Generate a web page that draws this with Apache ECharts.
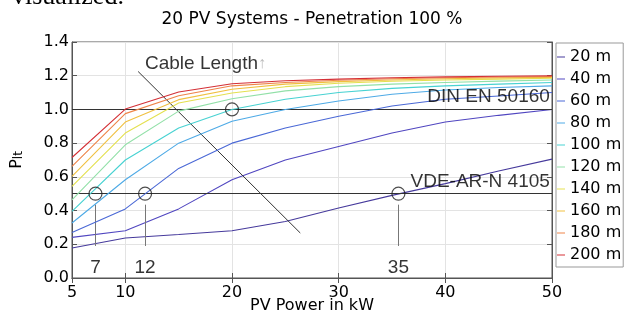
<!DOCTYPE html>
<html>
<head>
<meta charset="utf-8">
<script src="https://cdn.jsdelivr.net/npm/echarts@6/dist/echarts.min.js"></script>
<style>
  html, body { margin: 0; padding: 0; background: #fff; }
  #chart { width: 630px; height: 316px; }
</style>
</head>
<body>
<div id="chart"></div>
<script>
// PV power steps (kW)
const power = [5, 10, 15, 20, 25, 30, 35, 40, 45, 50];
const xTicks = [5, 10, 20, 30, 40, 50];

// P_lt per cable length
const cableNames = ['20 m', '40 m', '60 m', '80 m', '100 m', '120 m', '140 m', '160 m', '180 m', '200 m'];
const plt20  = [0.178, 0.237, 0.258, 0.28, 0.335, 0.415, 0.49, 0.56, 0.635, 0.705];
const plt40  = [0.241, 0.28, 0.41, 0.583, 0.70, 0.78, 0.86, 0.925, 0.965, 1.0];
const plt60  = [0.27, 0.41, 0.65, 0.80, 0.89, 0.96, 1.02, 1.06, 1.08, 1.10];
const plt80  = [0.326, 0.583, 0.80, 0.93, 1.0, 1.05, 1.09, 1.115, 1.13, 1.14];
const plt100 = [0.395, 0.70, 0.89, 1.0, 1.06, 1.10, 1.125, 1.14, 1.15, 1.16];
const plt120 = [0.464, 0.79, 0.99, 1.063, 1.11, 1.135, 1.15, 1.16, 1.168, 1.175];
const plt140 = [0.543, 0.86, 1.038, 1.097, 1.135, 1.155, 1.167, 1.175, 1.18, 1.185];
const plt160 = [0.603, 0.925, 1.058, 1.12, 1.15, 1.165, 1.175, 1.182, 1.187, 1.19];
const plt180 = [0.662, 0.975, 1.081, 1.14, 1.16, 1.173, 1.182, 1.188, 1.192, 1.195];
const plt200 = [0.715, 1.002, 1.103, 1.152, 1.17, 1.18, 1.188, 1.193, 1.197, 1.20];
const allPlt = [plt20, plt40, plt60, plt80, plt100, plt120, plt140, plt160, plt180, plt200];

const lineColors = ['#463a9c', '#5046c0', '#4a68d6', '#4eaae6', '#48d2d2',
                    '#92e0a8', '#e4e050', '#f0c040', '#ee8448', '#d43036'];

// limit lines
const limitY = [1.0, 0.5];
const limitText = ['DIN EN 50160', 'VDE-AR-N 4105'];

// crossing points of the limits
const crossX = [7.2, 11.85, 20, 35.6];
const crossY = [0.5, 0.5, 1.0, 0.5];
const crossText = ['7', '12', '', '35'];

const fontAxis = 'DejaVu Sans';
const fontNote = 'Liberation Sans, Arial, sans-serif';

let myChart = echarts.init(document.getElementById('chart'));

let series = allPlt.map(function (vals, k) {
  return {
    name: cableNames[k],
    type: 'line',
    symbol: 'none',
    lineStyle: { width: 1.1, color: lineColors[k] },
    itemStyle: { color: lineColors[k] },
    data: vals.map(function (v, i) { return [power[i], v]; }),
    z: 3 + k
  };
});

// limit lines + leader lines
let leaders = [];
crossText.forEach(function (t, i) {
  if (t) leaders.push([{ coord: [crossX[i], 0.435], lineStyle: { color: '#777', width: 1 } },
                       { coord: [crossX[i], 0.19] }]);
});
series.push({
  name: 'marks',
  type: 'line',
  data: [],
  markLine: {
    silent: true,
    animation: false,
    symbol: 'none',
    label: { show: false },
    lineStyle: { color: '#333', width: 1, type: 'solid' },
    data: limitY.map(function (y) { return [{ coord: [5, y] }, { coord: [50, y] }]; }).concat(leaders)
  },
  z: 2
});
// cable length arrow
series.push({
  name: 'arrow',
  type: 'line',
  data: [],
  markLine: {
    silent: true,
    animation: false,
    symbol: ['none', 'arrow'],
    symbolSize: [0, 7],
    label: { show: false },
    lineStyle: { color: '#333', width: 1, type: 'solid' },
    data: [[{ coord: [26.4, 0.267] }, { coord: [11.2, 1.225] }]]
  },
  z: 20
});

// circles
series.push({
  name: 'cross',
  type: 'scatter',
  symbol: 'circle',
  symbolSize: 13,
  itemStyle: { color: 'rgba(0,0,0,0)', borderColor: '#222', borderWidth: 1.2 },
  data: crossX.map(function (x, i) { return [x, crossY[i]]; }),
  z: 21
});

// text notes
let notes = [];
crossText.forEach(function (t, i) {
  if (t) notes.push({ value: [crossX[i], 0.06], label: { formatter: t, position: 'inside' } });
});
notes.push({ value: [49.8, 1.077], label: { formatter: limitText[0], position: 'left', distance: 0 } });
notes.push({ value: [49.8, 0.573], label: { formatter: limitText[1], position: 'left', distance: 0 } });
notes.push({ value: [11.84, 1.271], label: { formatter: 'Cable Length{a|↑}', position: 'right', distance: 0 } });
series.push({
  name: 'notes',
  type: 'scatter',
  symbolSize: 0,
  silent: true,
  label: {
    show: true,
    color: '#000',
    fontFamily: fontNote,
    fontSize: 19,
    rich: { a: { color: '#aaa', fontSize: 16, fontFamily: fontNote } }
  },
  data: notes,
  z: 22
});

let option = {
  animation: false,
  backgroundColor: '#fff',
  graphic: [
    {
      type: 'text', left: 12, top: -16,
      style: { text: 'visualized.', font: '26px "Liberation Serif", "Times New Roman", serif', fill: '#000' }
    },
    {
      type: 'text', x: 312, y: 20,
      style: { text: '20 PV Systems - Penetration 100 %', font: '17px "DejaVu Sans"', fill: '#000',
               align: 'center', verticalAlign: 'middle' }
    }
  ],
  grid: { left: 72, right: 78, top: 42, bottom: 38, containLabel: false, outerBoundsMode: 'none',
          show: true, borderColor: '#555', borderWidth: 1 },
  legend: {
    data: cableNames,
    orient: 'vertical',
    left: 556,
    top: 43,
    padding: [3, 2, 1, 1],
    itemGap: 0,
    itemWidth: 8,
    itemHeight: 1,
    icon: 'rect',
    backgroundColor: '#fff',
    borderColor: '#999',
    borderWidth: 1,
    textStyle: { fontFamily: fontAxis, fontSize: 16, color: '#000', lineHeight: 22 }
  },
  xAxis: [{
    type: 'value',
    min: 5,
    max: 50,
    name: 'PV Power in kW',
    nameLocation: 'middle',
    nameGap: 20,
    nameMoveOverlap: false,
    nameTextStyle: { fontFamily: fontAxis, fontSize: 16, color: '#000' },
    axisLine: { show: true, lineStyle: { color: '#555' } },
    axisTick: { show: true, inside: true, length: 5, customValues: xTicks, lineStyle: { color: '#555' } },
    axisLabel: { customValues: xTicks, fontFamily: fontAxis, fontSize: 16, color: '#000', margin: 7 },
    splitLine: { show: true, lineStyle: { color: '#e3e3e3' } }
  }, {
    type: 'value',
    position: 'top',
    min: 5,
    max: 50,
    axisLine: { show: true, lineStyle: { color: '#555' } },
    axisTick: { show: true, inside: true, length: 5, customValues: xTicks, lineStyle: { color: '#555' } },
    axisLabel: { show: false },
    splitLine: { show: false }
  }],
  yAxis: [{
    type: 'value',
    min: 0,
    max: 1.4,
    interval: 0.2,
    name: '{p|P}{s|lt}',
    nameLocation: 'middle',
    nameRotate: 90,
    nameGap: 47,
    nameMoveOverlap: false,
    nameTextStyle: {
      rich: {
        p: { fontFamily: fontAxis, fontSize: 16, color: '#000' },
        s: { fontFamily: fontAxis, fontSize: 12, color: '#000', padding: [4, 0, 0, 0] }
      }
    },
    axisLine: { show: true, lineStyle: { color: '#555' } },
    axisTick: { show: true, inside: true, length: 5, lineStyle: { color: '#555' } },
    axisLabel: { fontFamily: fontAxis, fontSize: 16, color: '#000', margin: 3,
                 formatter: function (v) { return v.toFixed(1); } },
    splitLine: { show: true, lineStyle: { color: '#e3e3e3' } }
  }, {
    type: 'value',
    position: 'right',
    min: 0,
    max: 1.4,
    interval: 0.2,
    axisLine: { show: true, lineStyle: { color: '#555' } },
    axisTick: { show: true, inside: true, length: 5, lineStyle: { color: '#555' } },
    axisLabel: { show: false },
    splitLine: { show: false }
  }],
  series: series
};

myChart.setOption(option);
</script>
</body>
</html>
